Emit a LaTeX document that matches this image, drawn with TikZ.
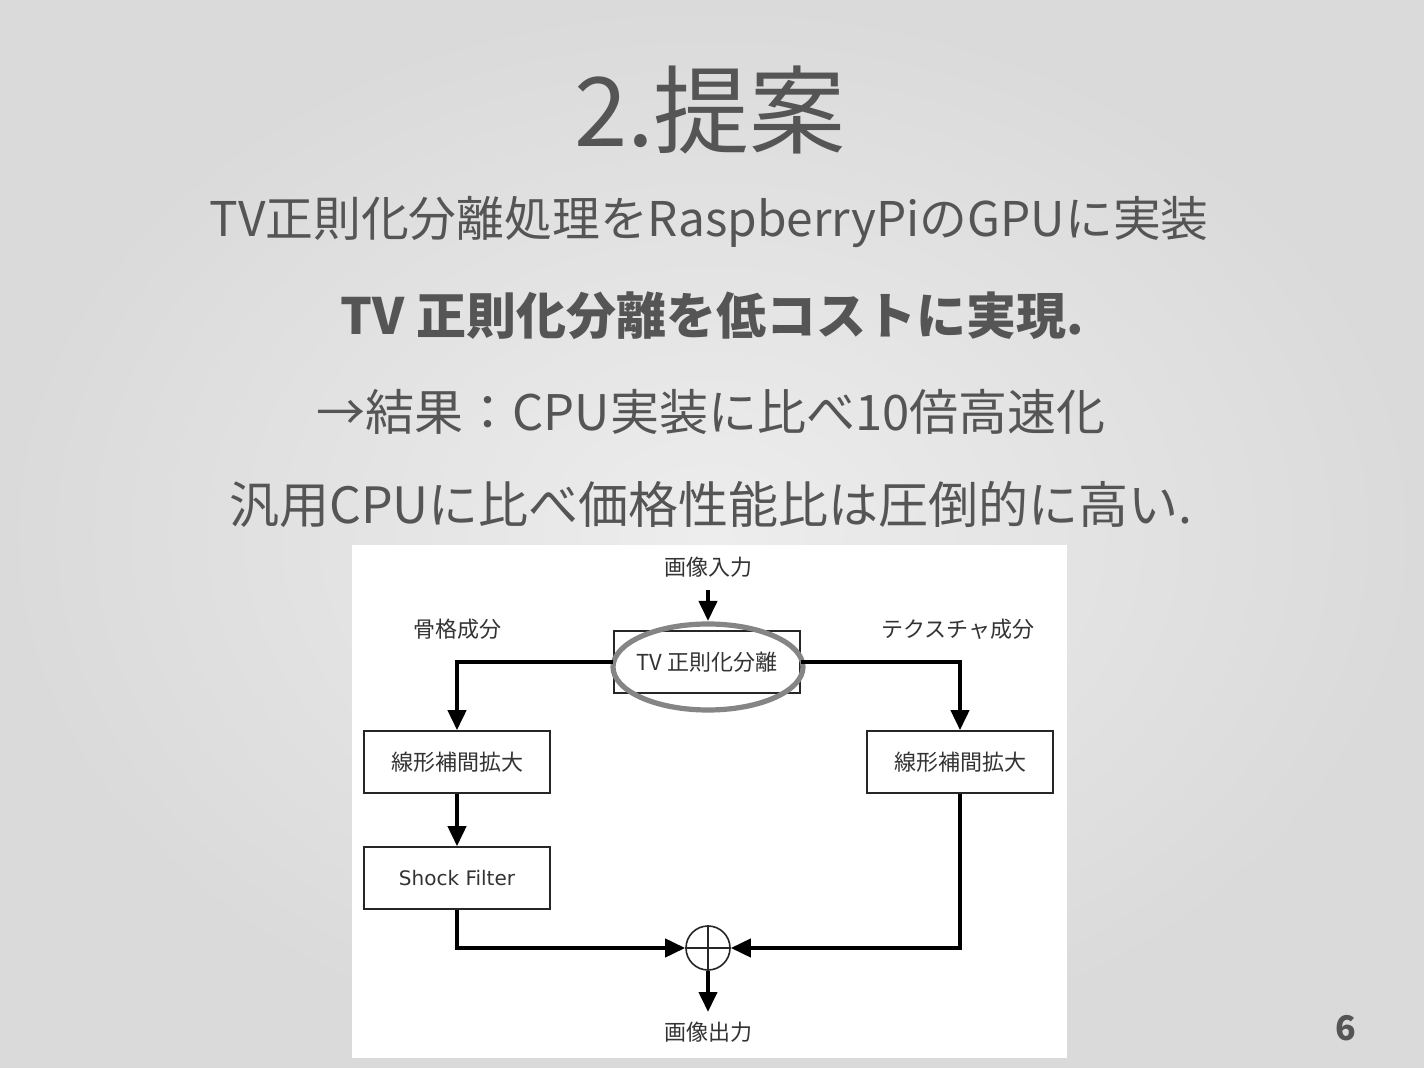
\documentclass[tikz,border=0pt]{standalone}
\usepackage{fontspec}
\setmainfont{Noto Sans CJK JP}
\newfontfamily\dvs{DejaVu Sans}
\usetikzlibrary{arrows.meta,shapes.geometric}
\definecolor{bgin}{HTML}{EDEDED}
\definecolor{bgout}{HTML}{DADADA}
\definecolor{slidetext}{HTML}{555555}
\definecolor{figtext}{HTML}{333333}
\definecolor{ringgray}{HTML}{858585}
\begin{document}
\begin{tikzpicture}[x=0.5pt,y=-0.5pt,
  slideline/.style={text=slidetext, inner sep=0pt, anchor=center},
  figlabel/.style={text=figtext, inner sep=0pt, font=\fontsize{11pt}{13pt}\selectfont},
  procbox/.style={draw=black!85, line width=0.8pt, minimum width=93pt, minimum height=31pt, inner sep=0pt, text=figtext, font=\fontsize{11pt}{13pt}\selectfont},
  conn/.style={line width=2pt, -{Triangle[length=10pt,width=9pt]}},
  flowline/.style={line width=2pt}
]
\useasboundingbox (0,0) rectangle (1424,1068);
\shade[inner color=bgin, outer color=bgout] (0,0) rectangle (1424,1068);

% slide texts
\node[slideline, font=\fontsize{48pt}{54pt}\selectfont] (title) at (710,110) {2.提案};
\node[slideline, font=\fontsize{23.9pt}{29pt}\selectfont] (l1) at (709,222) {TV正則化分離処理をRaspberryPiのGPUに実装};
\node[slideline, font=\fontsize{25pt}{30pt}\bfseries\selectfont] (l2) at (712,316) {TV 正則化分離を低コストに実現.};
\node[slideline, font=\fontsize{24.5pt}{30pt}\selectfont] (l3) at (711,412) {→結果：CPU実装に比べ10倍高速化};
\node[slideline, font=\fontsize{25pt}{30pt}\selectfont] (l4) at (711,505) {汎用CPUに比べ価格性能比は圧倒的に高い.};
\node[slideline, font=\fontsize{17pt}{20pt}\bfseries\selectfont] (pnum) at (1346,1028) {6};

% embedded figure background
\fill[white] (352,545) rectangle (1067,1058);

% flowchart
\node[figlabel] (in) at (708,567) {画像入力};
\node[procbox] (tv) at (707,662) {TV 正則化分離};
\node[draw=ringgray, line width=2.6pt, ellipse, minimum width=95pt, minimum height=43pt, inner sep=0pt] (ring) at (708,667) {};
\node[figlabel] (skel) at (457,629) {骨格成分};
\node[figlabel] (tex) at (958,629) {テクスチャ成分};
\node[procbox] (lin1) at (457,762) {線形補間拡大};
\node[procbox] (lin2) at (960,762) {線形補間拡大};
\node[procbox, font=\dvs\fontsize{10pt}{12pt}\selectfont] (shock) at (457,878) {Shock Filter};
\node[draw=black!85, line width=0.8pt, circle, minimum size=22pt, inner sep=0pt] (sum) at (708,948) {};
\draw[line width=0.8pt, black!85] (sum.north) -- (sum.south) (sum.west) -- (sum.east);
\node[figlabel] (out) at (708,1032) {画像出力};

\coordinate (inTop) at (708,590);
\coordinate (inTip) at (708,621);
\coordinate (outTip) at (708,1012);

\draw[conn] (inTop) -- (inTip);
\draw[conn] (tv.west) -| (lin1.north);
\draw[conn] (tv.east) -| (lin2.north);
\draw[conn] (lin1.south) -- (shock.north);
\draw[conn] (shock.south) |- (sum.west);
\draw[conn] (lin2.south) |- (sum.east);
\draw[conn] (sum.south) -- (outTip);
\end{tikzpicture}
\end{document}
